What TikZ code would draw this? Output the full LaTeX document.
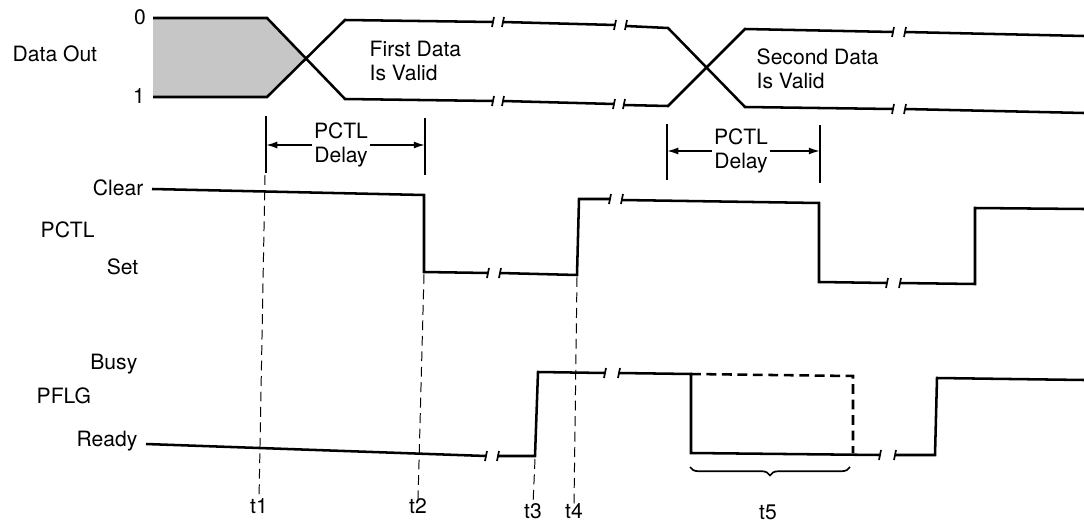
\documentclass[tikz,border=0pt]{standalone}
\usepackage{fontspec}
\setmainfont{TeX Gyre Heros}
\usetikzlibrary{arrows.meta, decorations.pathreplacing}

\begin{document}
\begin{tikzpicture}[
  x=0.025cm, y=-0.025cm,
  font=\fontsize{15}{17}\selectfont,
  sig/.style={line width=1.8pt, line join=miter},
  brk/.style={line width=1.2pt},
  guide/.style={line width=0.7pt, dash pattern=on 7pt off 4pt},
  bar/.style={line width=1.6pt},
  delay/.style={-{Latex[length=8pt, width=5pt]}, line width=1.2pt},
  lbl/.style={inner sep=1pt},
  txt/.style={align=left, inner sep=1pt, anchor=west},
]
\useasboundingbox (0,0) rectangle (1084,526);

% Signal names
\node[lbl, anchor=west] (dataout) at (11,54) {Data Out};
\node[lbl] (zero) at (140,17) {0};
\node[lbl] (one) at (139,96) {1};
\node[lbl, anchor=east] (clear) at (145,188) {Clear};
\node[lbl, anchor=west] (pctl) at (39,230) {PCTL};
\node[lbl, anchor=east] (set) at (140,267) {Set};
\node[lbl, anchor=east] (busy) at (139,364) {Busy};
\node[lbl, anchor=west] (pflg) at (35,396) {PFLG};
\node[lbl, anchor=east] (ready) at (139,441) {Ready};

% Data Out
\fill[gray!45] (153,18) -- (267,18) -- (306,58) -- (267,97) -- (153,97) -- cycle;
\draw[sig] (153,18) -- (267,18) -- (345,99) -- (493,101);
\draw[sig] (153,97) -- (267,97) -- (345,20) -- (493,22);
\draw[sig] (503,22) -- (615,25);
\draw[sig] (503,101) -- (614,104);
\draw[sig] (626,26) -- (668,28) -- (745,107) -- (893,109);
\draw[sig] (624,105) -- (668,106) -- (745,29) -- (893,32);
\draw[sig] (905,32) -- (1084,36);
\draw[sig] (905,109) -- (1084,113);
\node[txt] (first) at (368,61) {First Data\\Is Valid};
\node[txt] (second) at (755,69) {Second Data\\Is Valid};

% PCTL
\draw[sig] (152,189) -- (424,195) -- (424,272) -- (488,273);
\draw[sig] (500,273) -- (577,275) -- (579,199) -- (610,199);
\draw[sig] (622,200) -- (819,203) -- (819,282) -- (887,283);
\draw[sig] (900,283) -- (975,284) -- (975,208) -- (1084,209);

% PFLG
\draw[sig] (146,444) -- (486,456);
\draw[sig] (498,456) -- (535,456) -- (538,372) -- (605,373);
\draw[sig] (619,373) -- (691,374) -- (691,453) -- (880,455);
\draw[sig] (895,455) -- (935,455) -- (937,378) -- (1084,380);
\draw[sig, dash pattern=on 7pt off 4pt] (691,374) -- (853,376) -- (853,453);

% Breaks
\foreach \xa/\xb/\yy in {493/503/22, 615/626/25, 493/503/101, 614/624/104,
    893/905/32, 893/905/109, 488/500/273, 610/622/199, 887/900/283,
    486/498/456, 605/619/373, 880/895/455} {
  \draw[brk] (\xa-1,\yy+5) -- (\xa+1,\yy-5);
  \draw[brk] (\xb-1,\yy+5) -- (\xb+1,\yy-5);
}

% PCTL delays
\draw[bar] (266,116) -- (266,173);
\draw[bar] (425,118) -- (425,175);
\coordinate (barA1) at (266,146);
\coordinate (barA2) at (425,146);
\node[lbl, align=center] (delayA) at (341,145) {PCTL\\Delay};
\draw[delay] (delayA.west) -- (delayA.west -| barA1);
\draw[delay] (delayA.east) -- (delayA.east -| barA2);

\draw[bar] (667,124) -- (667,180);
\draw[bar] (820,125) -- (820,183);
\coordinate (barB1) at (667,152);
\coordinate (barB2) at (820,152);
\node[lbl, align=center] (delayB) at (741,151) {PCTL\\Delay};
\draw[delay] (delayB.west) -- (delayB.west -| barB1);
\draw[delay] (delayB.east) -- (delayB.east -| barB2);

% Time marks
\node[lbl] (t1) at (259,506) {t1};
\node[lbl] (t2) at (418,506) {t2};
\node[lbl] (t3) at (533,511) {t3};
\node[lbl] (t4) at (574,511) {t4};
\node[lbl] (t5) at (768,512) {t5};
\draw[guide] (265,175) -- ([yshift=-2pt]t1.north);
\draw[guide] (424,274) -- ([yshift=-2pt]t2.north);
\draw[guide] (535,459) -- ([yshift=-2pt]t3.north);
\draw[guide] (577,277) -- ([yshift=-2pt]t4.north);
\draw[decorate, decoration={brace, mirror, amplitude=6pt}, line width=1.2pt]
  (690,467) -- (850,467);

\end{tikzpicture}
\end{document}
